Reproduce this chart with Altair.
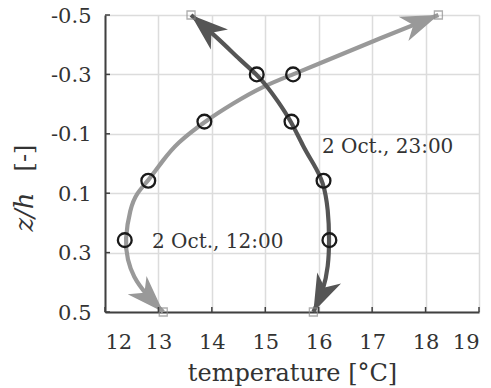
import math
import altair as alt
import pandas as pd

# ---- data ----
x_ticks = [12, 13, 14, 15, 16, 17, 18, 19]
z_ticks = [-0.5, -0.3, -0.1, 0.1, 0.3, 0.5]

series_names = ["2 Oct., 12:00", "2 Oct., 23:00"]

# profile curves
noon_curve_T = [13.09, 12.75, 12.53, 12.42, 12.37, 12.47, 12.59, 12.81, 13.09,
                13.34, 13.86, 14.40, 14.94, 15.52, 16.02, 17.15, 18.24]
noon_curve_z = [0.50, 0.437, 0.381, 0.325, 0.258, 0.151, 0.100, 0.058, -0.012,
                -0.068, -0.141, -0.203, -0.259, -0.30, -0.337, -0.422, -0.50]
night_curve_T = [13.61, 14.15, 14.53, 14.84, 15.04, 15.22, 15.49, 15.71, 15.90,
                 16.09, 16.18, 16.20, 16.18, 16.09, 15.90]
night_curve_z = [-0.50, -0.416, -0.348, -0.30, -0.258, -0.214, -0.141, -0.056, 0.0,
                 0.061, 0.157, 0.258, 0.347, 0.426, 0.50]

# observations (circles)
obs_z = [0.258, 0.058, -0.141, -0.30]
noon_obs_T = [12.37, 12.81, 13.86, 15.52]
night_obs_T = [16.20, 16.09, 15.49, 14.84]

# boundary values (squares)
noon_bc_T = [13.09, 18.24]
noon_bc_z = [0.50, -0.50]
night_bc_T = [13.61, 15.90]
night_bc_z = [-0.50, 0.50]

# ---- layout / style ----
W, H = 374, 297
FONT = "DejaVu Serif"
TXT = "#333333"
AX = "#404040"
LIGHT = "#999999"
DARK = "#555555"

curve_rows = []
for name, Ts, zs in [(series_names[0], noon_curve_T, noon_curve_z),
                     (series_names[1], night_curve_T, night_curve_z)]:
    for i, (t, z) in enumerate(zip(Ts, zs)):
        curve_rows.append(dict(T=t, z=z, i=i, s=name))
curves = pd.DataFrame(curve_rows)


def arrow_rows(Ts, zs, name):
    rows = []
    n = len(Ts)
    for e, p in [(0, 1), (n - 1, n - 2)]:
        dx = (Ts[e] - Ts[p]) * W / (x_ticks[-1] - x_ticks[0])
        dy = (zs[e] - zs[p]) * H / (z_ticks[-1] - z_ticks[0])
        ang = math.degrees(math.atan2(dx, -dy)) % 360
        rows.append(dict(T=Ts[e], z=zs[e], ang=ang, s=name))
    return rows


arrows = pd.DataFrame(arrow_rows(noon_curve_T, noon_curve_z, series_names[0])
                      + arrow_rows(night_curve_T, night_curve_z, series_names[1]))

obs = pd.DataFrame(
    [dict(T=t, z=z) for t, z in zip(noon_obs_T, obs_z)]
    + [dict(T=t, z=z) for t, z in zip(night_obs_T, obs_z)])
bcs = pd.DataFrame(
    [dict(T=t, z=z) for t, z in zip(noon_bc_T + night_bc_T, noon_bc_z + night_bc_z)])

annot = pd.DataFrame([
    dict(T=12.88, z=0.263, label=series_names[0]),
    dict(T=16.06, z=-0.056, label=series_names[1]),
])

xaxis = alt.Axis(values=x_ticks, format="d", title="temperature [°C]",
                 grid=True, gridColor="#dcdcdc", gridWidth=1.5,
                 domainColor=AX, domainWidth=2, ticks=False,
                 labelFont=FONT, labelFontSize=21, labelColor=TXT,
                 labelBaseline="alphabetic", labelPadding=36,
                 titleFont=FONT, titleFontSize=24, titleFontWeight="normal",
                 titleColor=TXT, titleBaseline="alphabetic", titleY=68)
yaxis = alt.Axis(values=z_ticks, title=None,
                 labelExpr="(datum.value < 0 ? '-' : '') + format(abs(datum.value), '.1f')",
                 grid=True, gridColor="#dcdcdc", gridWidth=1.5,
                 domainColor=AX, domainWidth=2, ticks=False,
                 labelFont=FONT, labelFontSize=21, labelColor=TXT,
                 labelPadding=14, labelOffset=1)


def X():
    return alt.X("T:Q", scale=alt.Scale(domain=[12, 19], nice=False, zero=False), axis=xaxis)


def Y():
    return alt.Y("z:Q", scale=alt.Scale(domain=[-0.5, 0.5], reverse=True, nice=False, zero=False),
                 axis=yaxis)


color = alt.Color("s:N", scale=alt.Scale(domain=series_names, range=[LIGHT, DARK]), legend=None)

lines = alt.Chart(curves).mark_line(interpolate="basis", strokeWidth=4.2, strokeCap="butt").encode(
    x=X(), y=Y(), color=color, order=alt.Order("i:Q"), detail="s:N")

ARROW = "M0,0 L0.56,1.6 L0,1.15 L-0.56,1.6 Z"
heads = alt.Chart(arrows).mark_point(shape=ARROW, filled=True, opacity=1, size=2200, strokeWidth=0).encode(
    x=X(), y=Y(), color=color, angle=alt.Angle("ang:Q", scale=None))

squares = alt.Chart(bcs).mark_point(shape="square", size=64, strokeWidth=1.3, color="#8c8c8c",
                                    filled=False).encode(x=X(), y=Y())

circles = alt.Chart(obs).mark_point(shape="circle", size=190, strokeWidth=2.3, color="#1a1a1a",
                                    filled=False, opacity=1).encode(x=X(), y=Y())

xt = alt.Chart(pd.DataFrame({"T": x_ticks})).mark_rule(color=AX, strokeWidth=1.5).encode(
    x=X(), y=alt.value(H), y2=alt.value(H - 5))
yt = alt.Chart(pd.DataFrame({"z": z_ticks})).mark_rule(color=AX, strokeWidth=1.5).encode(
    y=Y(), x=alt.value(0), x2=alt.value(5))

texts = alt.Chart(annot).mark_text(align="left", baseline="middle", font=FONT, fontSize=20,
                                   color=TXT).encode(x=X(), y=Y(), text="label:N")

yt1 = alt.Chart(pd.DataFrame({"t": ["z/h"]})).mark_text(
    angle=270, align="center", baseline="middle", font=FONT, fontSize=26, fontStyle="italic",
    color=TXT).encode(text="t:N", x=alt.value(-80), y=alt.value(197))
yt2 = alt.Chart(pd.DataFrame({"t": ["[-]"]})).mark_text(
    angle=270, align="center", baseline="middle", font=FONT, fontSize=24,
    color=TXT).encode(text="t:N", x=alt.value(-80), y=alt.value(143))

chart = alt.layer(lines, heads, squares, circles, xt, yt, texts, yt1, yt2).properties(
    width=W, height=H,
    autosize=alt.AutoSizeParams(type="none"),
    padding={"left": 105, "top": 15, "right": 12, "bottom": 76},
    background="white",
).configure_view(strokeWidth=0)

chart.save("out.html", embed_options={"renderer": "svg", "actions": False})
